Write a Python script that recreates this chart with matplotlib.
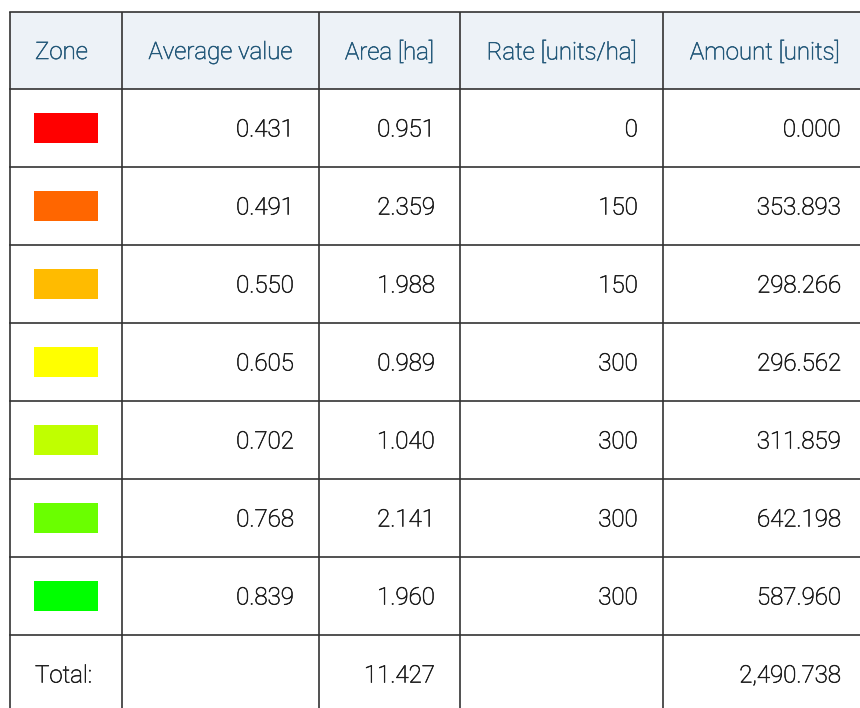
import matplotlib
matplotlib.use('Agg')
import matplotlib.pyplot as plt
import matplotlib.patheffects as pe
from matplotlib.patches import Rectangle

# -------- table data ------------------
headers = ['Zone', 'Average value', 'Area [ha]', 'Rate [units/ha]', 'Amount [units]']
zone_colors = ['#ff0000', '#ff6600', '#ffbb00', '#ffff00', '#c0ff00', '#6aff00', '#00ff00']
avg_value = ['0.431', '0.491', '0.550', '0.605', '0.702', '0.768', '0.839']
area_ha = ['0.951', '2.359', '1.988', '0.989', '1.040', '2.141', '1.960']
rate = ['0', '150', '150', '300', '300', '300', '300']
amount = ['0.000', '353.893', '298.266', '296.562', '311.859', '642.198', '587.960']
total_label = 'Total:'
total_area = '11.427'
total_amount = '2,490.738'

# -------- layout (pixels) ------------------
col_x = [10, 122, 319, 460, 663, 866]
top = 12
head_h = 77
row_h = 78
pad = 25
dy = 2  # text sits a bit low in the cells

plt.rcParams['font.family'] = ['Roboto', 'DejaVu Sans']
fig = plt.figure(figsize=(8.6, 7.08), dpi=100)
ax = fig.add_axes([0, 0, 1, 1])
ax.set_xlim(0, 860)
ax.set_ylim(708, 0)
ax.axis('off')

fs = 17.3
fw = 'light'
head_col = '#24597a'
txt_col = '#1e1e1e'
line_col = '#333333'


def put(x, y, s, ha, col):
    t = ax.text(x, y, s, ha=ha, va='center', fontsize=fs, color=col, fontweight=fw)
    # light weight looks too thin in agg, thicken it a little
    t.set_path_effects([pe.withStroke(linewidth=0.45, foreground=col)])


# header background
ax.add_patch(Rectangle((col_x[0], top), col_x[-1] - col_x[0], head_h,
                       facecolor='#edf2f7', edgecolor='none'))
yh = top + head_h / 2 + dy
put(col_x[0] + pad, yh, headers[0], 'left', head_col)
for i in range(1, len(headers)):
    put((col_x[i] + col_x[i + 1]) / 2, yh, headers[i], 'center', head_col)

y0 = top + head_h
for r in range(len(zone_colors)):
    yc = y0 + r * row_h + row_h / 2
    cx = (col_x[0] + col_x[1]) / 2
    ax.add_patch(Rectangle((cx - 32, yc - 15), 64, 30, facecolor=zone_colors[r], edgecolor='none'))
    for c, vals in zip([1, 2, 3, 4], [avg_value, area_ha, rate, amount]):
        put(col_x[c + 1] - pad, yc + dy, vals[r], 'right', txt_col)

# total row
yt = y0 + len(zone_colors) * row_h + row_h / 2 + dy
put(col_x[0] + pad, yt, total_label, 'left', txt_col)
put(col_x[3] - pad, yt, total_area, 'right', txt_col)
put(col_x[5] - pad, yt, total_amount, 'right', txt_col)

# grid lines
bottom = y0 + (len(zone_colors) + 1) * row_h
for x in col_x:
    ax.plot([x, x], [top, bottom], color=line_col, lw=1.2, solid_capstyle='butt')
ax.plot([col_x[0], col_x[-1]], [top, top], color=line_col, lw=1.2)
for r in range(len(zone_colors) + 2):
    y = y0 + r * row_h
    ax.plot([col_x[0], col_x[-1]], [y, y], color=line_col, lw=1.2)

fig.savefig('out.png', dpi=100)
